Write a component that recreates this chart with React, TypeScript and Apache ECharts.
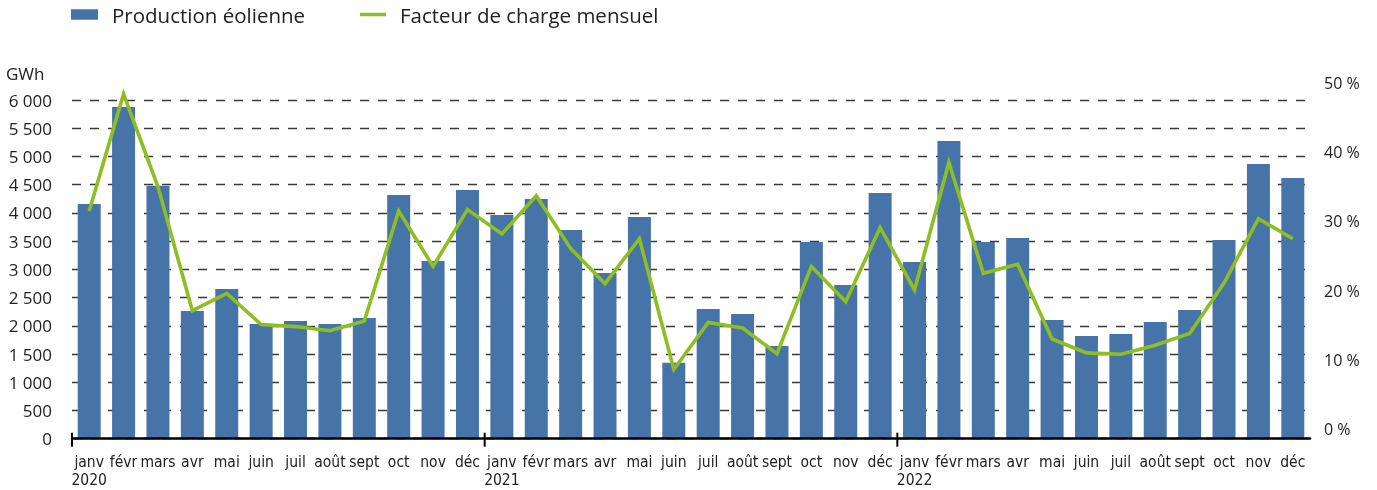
import React, { useEffect, useRef } from "react";
import * as echarts from "echarts";

const months = ["janv", "févr", "mars", "avr", "mai", "juin", "juil", "août", "sept", "oct", "nov", "déc"];
const years = ["2020", "2021", "2022"];

// Production éolienne (GWh)
const production2020 = [4158, 5874, 4482, 2262, 2652, 2032, 2085, 2032, 2138, 4317, 3148, 4406];
const production2021 = [3963, 4246, 3697, 2935, 3927, 1346, 2298, 2209, 1642, 3484, 2723, 4352];
const production2022 = [3130, 5274, 3484, 3555, 2103, 1819, 1855, 2067, 2280, 3520, 4866, 4618];

// Facteur de charge mensuel (%)
const loadFactor2020 = [31.5, 48.4, 35.0, 17.1, 19.6, 15.1, 14.8, 14.2, 15.6, 31.5, 23.5, 31.7];
const loadFactor2021 = [28.2, 33.7, 26.1, 21.0, 27.5, 8.6, 15.4, 14.6, 10.9, 23.5, 18.4, 29.1];
const loadFactor2022 = [20.1, 38.5, 22.5, 23.8, 13.0, 11.0, 10.8, 12.1, 13.8, 21.1, 30.4, 27.5];

const seriesNames = ["Production éolienne", "Facteur de charge mensuel"];
const leftTicks = { min: 0, max: 6000, interval: 500 };
const rightTicks = { min: 0, max: 50, interval: 10 };

const BLUE = "#4674A9";
const GREEN = "#8DBE22";
const TEXT = "#222222";
const MAIN_FONT = "'Open Sans', 'Noto Sans', sans-serif";
const NARROW_FONT = "'Liberation Sans Narrow', 'DejaVu Sans Condensed', sans-serif";

export default function App() {
  const ref = useRef<HTMLDivElement>(null);

  useEffect(() => {
    if (!ref.current) return;
    const chart = echarts.init(ref.current, undefined, { renderer: "svg" });

    const categories: string[] = [];
    years.forEach((y) => months.forEach((m, i) => categories.push(i === 0 ? `${m}\n${y}` : m)));
    const production = [...production2020, ...production2021, ...production2022];
    const loadFactor = [...loadFactor2020, ...loadFactor2021, ...loadFactor2022];

    chart.setOption({
      animation: false,
      legend: [
        {
          data: [{ name: seriesNames[0], icon: "rect" }],
          left: 71,
          top: 4,
          padding: 0,
          itemWidth: 27,
          itemHeight: 10.5,
          textStyle: { fontFamily: MAIN_FONT, fontSize: 20.5, color: TEXT, padding: [0, 0, 0, 9] },
          selectedMode: false,
        },
        {
          data: [{ name: seriesNames[1], icon: "rect" }],
          left: 360,
          top: 4,
          padding: 0,
          itemWidth: 26,
          itemHeight: 3.5,
          textStyle: { fontFamily: MAIN_FONT, fontSize: 20.5, color: TEXT, padding: [0, 0, 0, 9] },
          selectedMode: false,
        },
      ],
      grid: [
        { left: 72, right: 67, top: 100, bottom: 51.3 },
        { left: 72, right: 67, top: 83, bottom: 61 },
      ],
      xAxis: [
        {
          type: "category",
          gridIndex: 0,
          data: categories,
          boundaryGap: true,
          axisLine: { show: true, lineStyle: { color: "#000", width: 2.5 } },
          axisTick: { show: false },
          axisLabel: {
            interval: 0,
            margin: 14,
            fontFamily: NARROW_FONT,
            fontSize: 15.5,
            lineHeight: 18,
            color: TEXT,
          },
          splitLine: { show: false },
          z: 5,
        },
        {
          type: "category",
          gridIndex: 1,
          data: categories,
          boundaryGap: true,
          show: false,
        },
      ],
      yAxis: [
        {
          type: "value",
          gridIndex: 0,
          position: "left",
          min: leftTicks.min,
          max: leftTicks.max,
          interval: leftTicks.interval,
          axisLine: { show: false },
          axisTick: { show: false },
          axisLabel: {
            margin: 20,
            fontFamily: MAIN_FONT,
            fontSize: 17,
            color: TEXT,
            formatter: (v: number) => (v >= 1000 ? `${Math.floor(v / 1000)} ${String(v % 1000).padStart(3, "0")}` : String(v)),
          },
          splitLine: { show: true, lineStyle: { color: "#3a3a3a", width: 1.4, type: [9, 9] } },
        },
        {
          type: "value",
          gridIndex: 1,
          position: "right",
          min: rightTicks.min,
          max: rightTicks.max,
          interval: rightTicks.interval,
          axisLine: { show: false },
          axisTick: { show: false },
          axisLabel: {
            margin: 14,
            fontFamily: MAIN_FONT,
            fontSize: 16,
            color: TEXT,
            formatter: (v: number) => `${v} %`,
          },
          splitLine: { show: false },
        },
      ],
      series: [
        {
          name: seriesNames[0],
          type: "bar",
          xAxisIndex: 0,
          yAxisIndex: 0,
          data: production,
          barWidth: 23,
          itemStyle: { color: BLUE },
          z: 2,
        },
        {
          name: seriesNames[1],
          type: "line",
          xAxisIndex: 1,
          yAxisIndex: 1,
          data: loadFactor,
          symbol: "none",
          lineStyle: { color: GREEN, width: 3.6, join: "miter" },
          itemStyle: { color: GREEN },
          z: 10,
        },
      ],
    });

    // Year separator ticks at the start of each January, positioned via the axis scale
    const c0 = chart.convertToPixel({ xAxisIndex: 0 }, 0) as number;
    const c1 = chart.convertToPixel({ xAxisIndex: 0 }, 1) as number;
    const band = c1 - c0;
    const yBase = chart.convertToPixel({ yAxisIndex: 0 }, 0) as number;
    const yearTicks = years.map((_, k) => {
      const x = (chart.convertToPixel({ xAxisIndex: 0 }, k * 12) as number) - band / 2;
      return {
        type: "line",
        shape: { x1: x, y1: yBase - 6, x2: x, y2: yBase + 8 },
        style: { stroke: "#000", lineWidth: 2 },
        z: 20,
      };
    });

    chart.setOption({
      graphic: [
        {
          type: "text",
          left: 6,
          top: 65,
          style: { text: "GWh", fontFamily: MAIN_FONT, fontSize: 17, fill: TEXT },
        },
        ...yearTicks,
      ],
    });

    return () => chart.dispose();
  }, []);

  return <div ref={ref} style={{ position: "fixed", left: 0, top: 0, width: 1377, height: 490 }} />;
}
